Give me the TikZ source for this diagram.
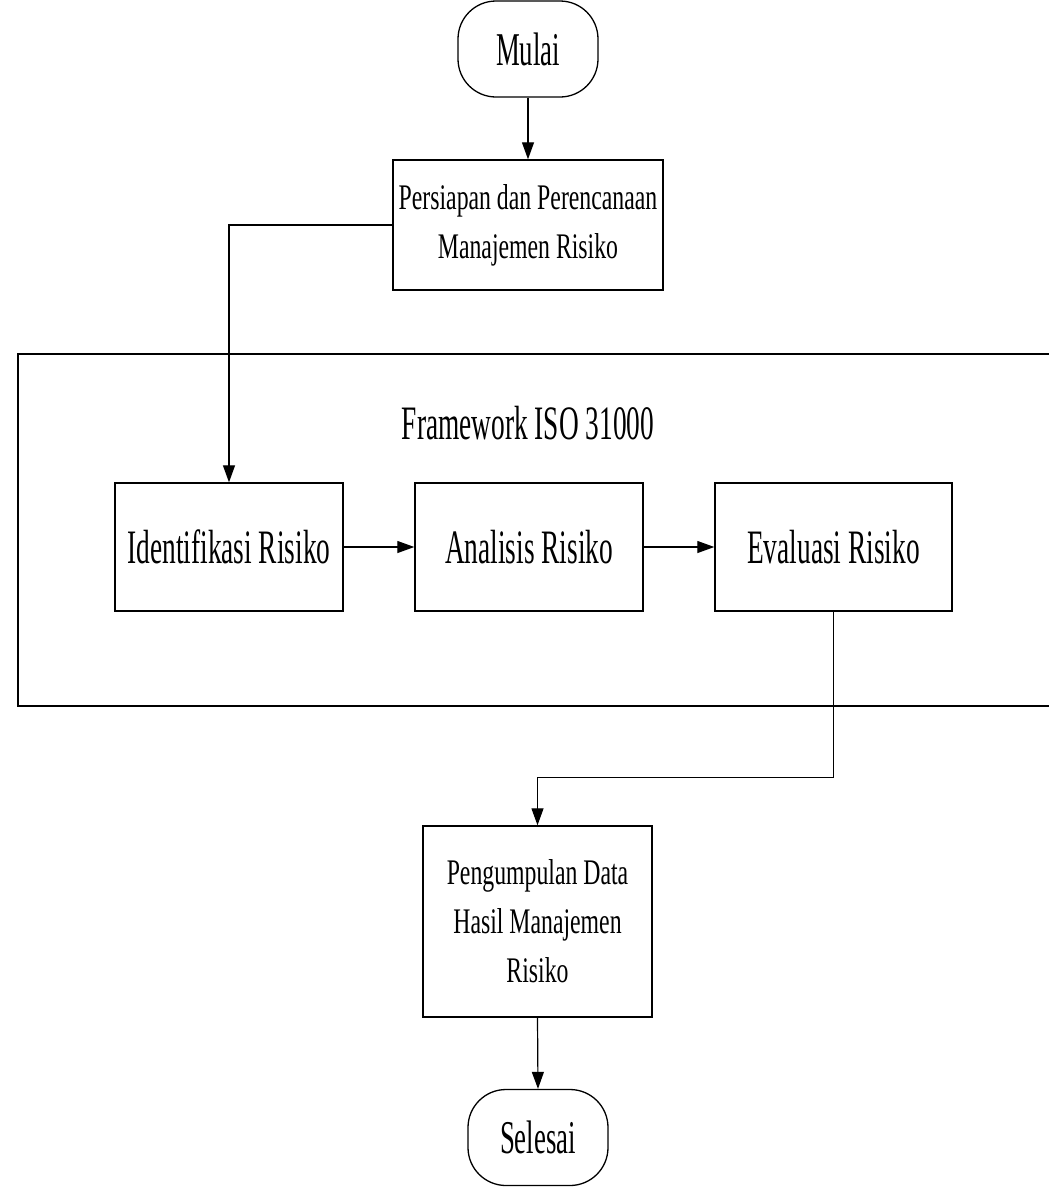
\documentclass[tikz,border=0pt]{standalone}
\usepackage{fontspec}
\usetikzlibrary{arrows.meta}
\newfontfamily\bigf[FakeStretch=0.57]{Liberation Serif}
\newfontfamily\smallf[FakeStretch=0.66]{Liberation Serif}
\tikzset{
  box/.style={draw, line width=1.4pt, rectangle, inner sep=0pt},
  term/.style={draw, line width=1.3pt, rounded corners=38pt, minimum width=140pt, minimum height=96pt, inner sep=0pt, font={\bigf\fontsize{47}{54}\selectfont}},
  bigtxt/.style={font={\bigf\fontsize{48}{56}\selectfont}},
  smalltxt/.style={font={\smallf\fontsize{36}{49}\selectfont}, align=center},
  conn/.style={line width=1.2pt, -{Triangle[length=17pt,width=12pt]}},
  frame/.style={line width=1.6pt}
}
\begin{document}
\begin{tikzpicture}[x=1pt,y=-1pt]
\useasboundingbox[fill=white] (0,0) rectangle (1049,1192);
% framework frame (open on the right)
\coordinate (ftr) at (1052,354);
\coordinate (ftl) at (18,354);
\coordinate (fbl) at (18,706);
\coordinate (fbr) at (1052,706);
\draw[frame] (ftr) -- (ftl) -- (fbl) -- (fbr);
\node[bigtxt] (fw) at (528,423) {Framework ISO 31000};

\node[term] (mulai) at (528,49) {Mulai};
\node[box, smalltxt, minimum width=270pt, minimum height=130pt] (prep) at (528,225) {Persiapan dan Perencanaan\\Manajemen Risiko};
\node[box, bigtxt, minimum width=228pt, minimum height=128pt] (ident) at (229,547) {Identifikasi Risiko};
\node[box, bigtxt, minimum width=228pt, minimum height=128pt] (anal) at (529,547) {Analisis Risiko};
\node[box, bigtxt, minimum width=237pt, minimum height=128pt] (eval) at (833.5,547) {Evaluasi Risiko};
\node[box, smalltxt, minimum width=229pt, minimum height=191pt] (peng) at (537.5,921.5) {Pengumpulan Data\\Hasil Manajemen\\Risiko};
\node[term] (selesai) at (538,1137.5) {Selesai};

\draw[conn] (mulai.south) -- (prep.north);
\draw[conn] (prep.west) -| (ident.north);
\draw[conn] (ident.east) -- (anal.west);
\draw[conn] (anal.east) -- (eval.west);
\draw[conn] (eval.south) -- ++(0,166) -| (peng.north);
\draw[conn] (peng.south) -- (selesai.north);
\end{tikzpicture}
\end{document}
